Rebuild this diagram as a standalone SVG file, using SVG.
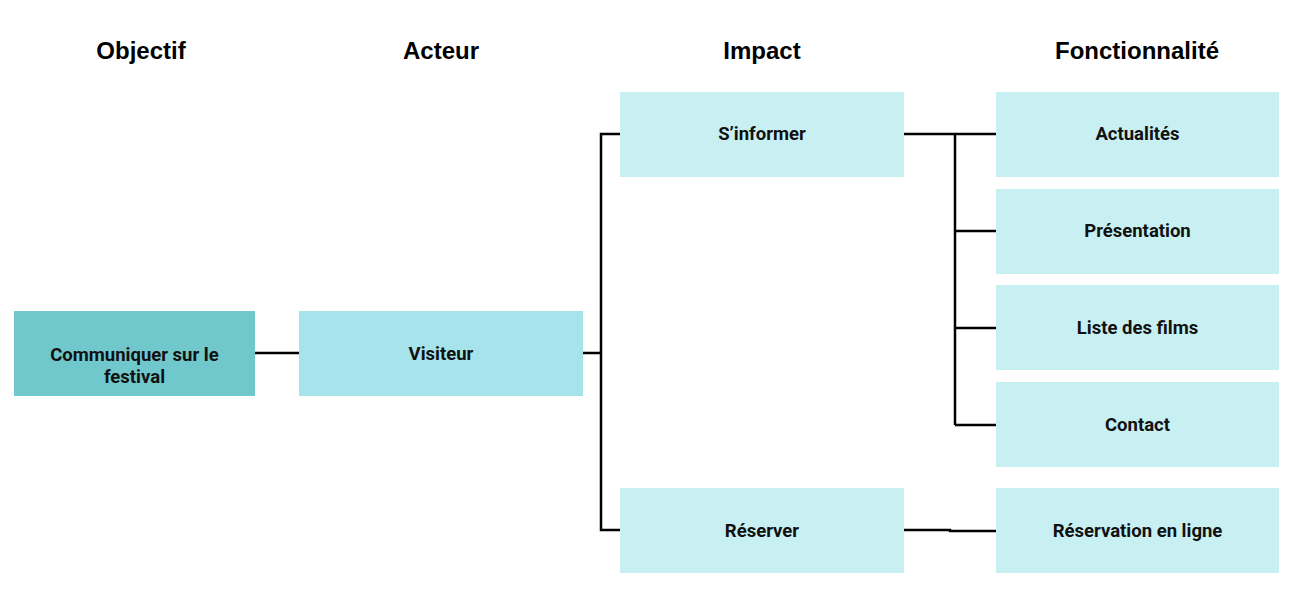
<svg xmlns="http://www.w3.org/2000/svg" width="1309" height="604" viewBox="0 0 1309 604">
<style>
.h{font-family:"Liberation Sans",Arial,sans-serif;font-weight:bold;font-size:24px;fill:#000;text-anchor:middle}
.t{font-family:Roboto,"Liberation Sans",sans-serif;font-weight:bold;font-size:18.5px;fill:#111;text-anchor:middle}
.c{fill:none;stroke:#000;stroke-width:2.5}
.n1{fill:#70C8CC}.n2{fill:#A6E3EA}.n3{fill:#C8F0F3}
</style>
<rect width="1309" height="604" fill="#fff"/>
<g id="headers">
<text class="h" x="141" y="59">Objectif</text>
<text class="h" x="441" y="59">Acteur</text>
<text class="h" x="762" y="59">Impact</text>
<text class="h" x="1137" y="59">Fonctionnalité</text>
</g>
<g id="connectors">
<path class="c" d="M255 353H299"/>
<path class="c" d="M583 353H601M620 134H601V530H620"/>
<path class="c" d="M904 134H996M955 134V425M955 231H996M955 328H996M955 425H996"/>
<path class="c" d="M904 530H950V531H996"/>
</g>
<g id="objectif"><rect class="n1" x="14" y="311" width="241" height="85"/><text class="t" x="134.5" y="361">Communiquer sur le</text><text class="t" x="134.5" y="383">festival</text></g>
<g id="visiteur"><rect class="n2" x="299" y="311" width="284" height="85"/><text class="t" x="441" y="360">Visiteur</text></g>
<g id="sinformer"><rect class="n3" x="620" y="92" width="284" height="85"/><text class="t" x="762" y="140">S’informer</text></g>
<g id="reserver"><rect class="n3" x="620" y="488" width="284" height="85"/><text class="t" x="762" y="537">Réserver</text></g>
<g id="actualites"><rect class="n3" x="996" y="92" width="283" height="85"/><text class="t" x="1137.5" y="140">Actualités</text></g>
<g id="presentation"><rect class="n3" x="996" y="189" width="283" height="85"/><text class="t" x="1137.5" y="237">Présentation</text></g>
<g id="films"><rect class="n3" x="996" y="285" width="283" height="85"/><text class="t" x="1137.5" y="334">Liste des films</text></g>
<g id="contact"><rect class="n3" x="996" y="382" width="283" height="85"/><text class="t" x="1137.5" y="431">Contact</text></g>
<g id="reservation"><rect class="n3" x="996" y="488" width="283" height="85"/><text class="t" x="1137.5" y="537">Réservation en ligne</text></g>
</svg>
